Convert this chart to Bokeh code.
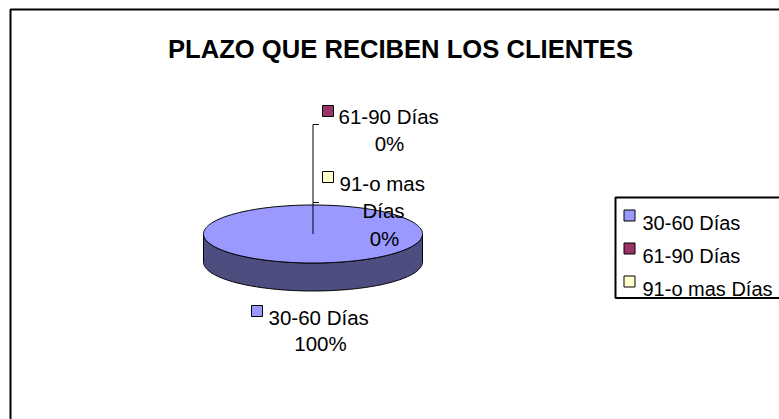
import numpy as np
from bokeh.plotting import figure
from bokeh.models import Range1d
from bokeh.core.properties import value
from bokeh.embed import file_html
from bokeh.resources import INLINE

# ---------------- data ----------------
title = "PLAZO QUE RECIBEN LOS CLIENTES"
categories = ["30-60 Días", "61-90 Días", "91-o mas Días"]
values = [100, 0, 0]
top_colors = ["#9999FF", "#993366", "#FFFFCC"]
side_colors = ["#4D4D80", "#4D1A33", "#808066"]

# ---------------- layout ----------------
W, H = 779, 419
FONT = value("Liberation Sans")
p = figure(width=W, height=H, output_backend="svg", toolbar_location=None,
           x_range=Range1d(0, W), y_range=Range1d(H, 0), min_border=0)
p.axis.visible = False
p.grid.visible = False
p.outline_line_color = None
p.background_fill_color = "white"
p.border_fill_color = "white"

# chart area border (right and bottom edges fall outside the picture)
p.quad(left=[10], right=[W + 20], top=[9], bottom=[H + 20],
       fill_color=None, line_color="black", line_width=2)

# title
p.text(x=[400], y=[48.5], text=[title], text_font=FONT, text_font_size="25.6px",
       text_font_style="bold", text_align="center", text_baseline="alphabetic",
       text_color="black")

# ---------------- 3D pie ----------------
cx, cy, rx, ry, depth = 312.5, 233.5, 109.5, 29.0, 28.0
total = float(sum(values))
fracs = np.array(values, dtype=float) / total
starts = np.concatenate([[0.0], np.cumsum(fracs)[:-1]]) * 2 * np.pi
ends = starts + fracs * 2 * np.pi


def arc(a, b, dy=0.0, n=120):
    t = np.linspace(a, b, n)
    return list(cx + rx * np.sin(t)), list(cy - ry * np.cos(t) + dy)


side_xs, side_ys, side_fill = [], [], []
for s, e, c in zip(starts, ends, side_colors):
    a, b = max(s, np.pi / 2), min(e, 3 * np.pi / 2)
    if b - a > 1e-9:
        ux, uy = arc(a, b)
        lx, ly = arc(b, a, depth)
        side_xs.append(ux + lx)
        side_ys.append(uy + ly)
        side_fill.append(c)
p.patches(side_xs, side_ys, fill_color=side_fill, line_color="black", line_width=1)

top_xs, top_ys, top_fill = [], [], []
for f, s, e, c in zip(fracs, starts, ends, top_colors):
    if f >= 1 - 1e-9:
        ax, ay = arc(s, e, n=240)
        top_xs.append(ax)
        top_ys.append(ay)
        top_fill.append(c)
    elif f > 1e-9:
        ax, ay = arc(s, e)
        top_xs.append([cx] + ax)
        top_ys.append([cy] + ay)
        top_fill.append(c)
p.patches(top_xs, top_ys, fill_color=top_fill, line_color="black", line_width=1)

# leader line with bracket for the zero-value slices
p.multi_line(xs=[[cx, cx], [cx, cx + 6], [cx, cx + 6]],
             ys=[[cy, 124], [124, 124], [202, 202]],
             line_color="black", line_width=1)

# ---------------- data labels ----------------
pcts = [f"{round(v / total * 100)}%" for v in values]
# per-category label layout: square centre, name lines (x, baseline, align), pct (x, baseline)
label_layout = [
    dict(sq=(256.5, 310.5), lines=[(268, 317, "left")], pct=(320, 343)),
    dict(sq=(327.5, 110.5), lines=[(338, 116, "left")], pct=(389, 143)),
    dict(sq=(327.5, 176.5), lines=[(339, 183, "left"), (383, 210, "center")], pct=(384, 238)),
]
wrapped = [[categories[0]], [categories[1]], ["91-o mas", "Días"]]

for i, lay in enumerate(label_layout):
    p.rect(x=[lay["sq"][0]], y=[lay["sq"][1]], width=11, height=11,
           fill_color=top_colors[i], line_color="black", line_width=1)
    for (lx, ly, al), txt in zip(lay["lines"], wrapped[i]):
        p.text(x=[lx], y=[ly], text=[txt], text_font=FONT, text_font_size="20.5px",
               text_align=al, text_baseline="alphabetic", text_color="black")
    p.text(x=[lay["pct"][0]], y=[lay["pct"][1]], text=[pcts[i]], text_font=FONT,
           text_font_size="20.5px", text_align="center", text_baseline="alphabetic",
           text_color="black")

# ---------------- legend ----------------
p.quad(left=[615], right=[W + 20], top=[197], bottom=[297.5],
       fill_color="white", line_color="black", line_width=2)
leg_y = [215, 248, 281]
p.rect(x=[629] * 3, y=leg_y, width=11, height=11, fill_color=top_colors,
       line_color="black", line_width=1)
p.text(x=[642] * 3, y=[y + 7.5 for y in leg_y], text=categories, text_font=FONT,
       text_font_size="20px", text_align="left", text_baseline="alphabetic",
       text_color="black")

open("out.html", "w").write(file_html(p, INLINE))
